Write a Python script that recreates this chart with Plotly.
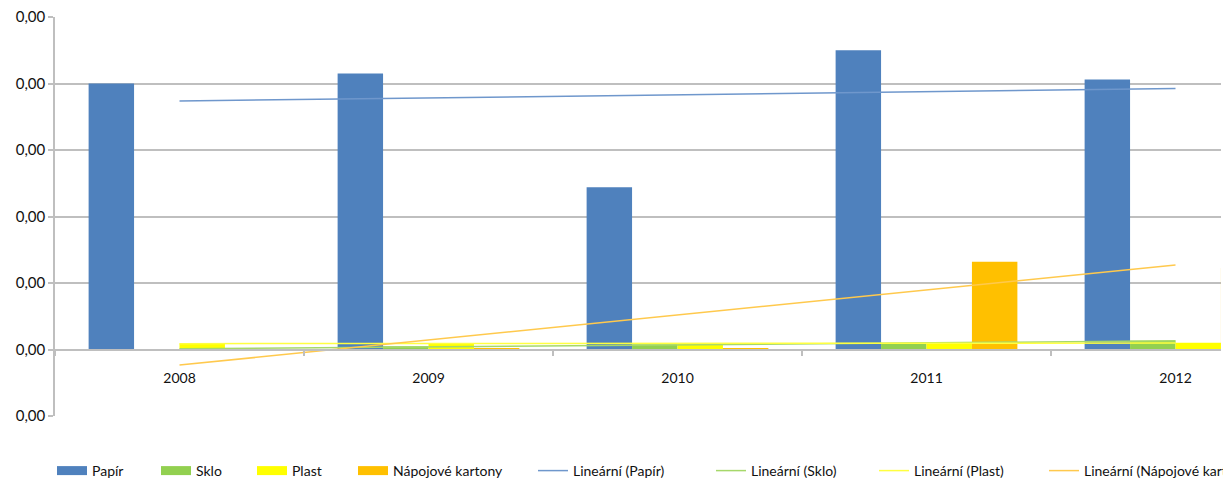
import numpy as np
import plotly.graph_objects as go

# ---- data (y unit = one gridline step of 100) ----
years = ["2008", "2009", "2010", "2011", "2012"]
papir = [400, 415, 244, 450, 406]
sklo = [0, 5, 8, 9, 13]
plast = [9, 9, 9, 9, 10]
kartony = [0, 2, 2, 132, 123]
y_tick_values = [-100, 0, 100, 200, 300, 400, 500]
y_tick_labels = ["0,00", "0,00", "0,00", "0,00", "0,00", "0,00", "0,00"]

series_names = ["Papír", "Sklo", "Plast", "Nápojové kartony"]
trend_names = ["Lineární (Papír)", "Lineární (Sklo)", "Lineární (Plast)", "Lineární (Nápojové kartony)"]
series_values = [papir, sklo, plast, kartony]
bar_colors = ["#4F81BD", "#92D050", "#FFFF00", "#FFC000"]
trend_colors = ["#6F97CC", "#A6D86A", "#FFFF40", "#FFC94D"]

FONT = "Lato"
TXT = "#111111"
GRID = "#BFBFBF"

W, H = 1223, 485
ML, MT, MB, MR = 55, 17, 69, 2
plot_w = W - ML - MR
plot_h = H - MT - MB
cat_px = 249.0

fig = go.Figure()

# bars
for name, vals, col in zip(series_names, series_values, bar_colors):
    fig.add_trace(go.Bar(x=years, y=vals, name=name, marker=dict(color=col, line=dict(width=0)),
                         showlegend=False))

# linear trend lines (least squares fit of each series, as Excel does)
idx = np.arange(len(years))
for name, vals, col in zip(trend_names, series_values, trend_colors):
    k, q = np.polyfit(idx, np.array(vals, dtype=float), 1)
    fig.add_trace(go.Scatter(x=years, y=k * idx + q, mode="lines", name=name,
                             line=dict(color=col, width=1.5), showlegend=False,
                             hoverinfo="skip"))

# legend entries, each in its own legend positioned like the original
legend_px = [57, 161, 257, 358, 538, 716, 879, 1049]
legend_y = (MT + plot_h - 471) / plot_h
entries = ([(n, c, 9) for n, c in zip(series_names, bar_colors)] +
           [(n, c, 1.5) for n, c in zip(trend_names, trend_colors)])
layout_legends = {}
for i, ((name, col, lw), px) in enumerate(zip(entries, legend_px)):
    key = "legend" if i == 0 else f"legend{i + 1}"
    fig.add_trace(go.Scatter(x=[None], y=[None], mode="lines", name=name,
                             line=dict(color=col, width=lw), legend=key, showlegend=True))
    layout_legends[key] = dict(x=(px - 5 - ML) / plot_w, y=legend_y, xanchor="left", yanchor="middle",
                               orientation="h", bgcolor="rgba(0,0,0,0)", borderwidth=0,
                               font=dict(family=FONT, size=14, color=TXT))

x_end = -0.5 + plot_w / cat_px

fig.update_layout(
    width=W, height=H,
    margin=dict(l=ML, r=MR, t=MT, b=MB, autoexpand=False),
    paper_bgcolor="white", plot_bgcolor="white",
    barmode="group", bargap=0.27, bargroupgap=0,
    font=dict(family=FONT, size=14, color=TXT),
    **layout_legends,
    xaxis=dict(type="category", range=[-0.5, x_end], anchor="free",
               position=(416 - 350) / plot_h,
               showline=True, linecolor=GRID, linewidth=1.5,
               showgrid=False, zeroline=False,
               ticks="outside", tickson="boundaries", ticklen=5, tickcolor=GRID, tickwidth=1.5,
               ticklabelstandoff=15,
               tickfont=dict(family=FONT, size=14, color=TXT)),
    yaxis=dict(range=[-100, 500], tickvals=y_tick_values, ticktext=y_tick_labels,
               showline=True, linecolor=GRID, linewidth=1.5,
               showgrid=True, gridcolor=GRID, gridwidth=1.5, zeroline=False,
               ticks="outside", ticklen=5, tickcolor=GRID, tickwidth=1.5,
               tickfont=dict(family=FONT, size=15, color=TXT)),
    hovermode=False,
)

fig.write_html("out.html", config={"displayModeBar": False},
               post_script="document.body.style.margin='0';")
